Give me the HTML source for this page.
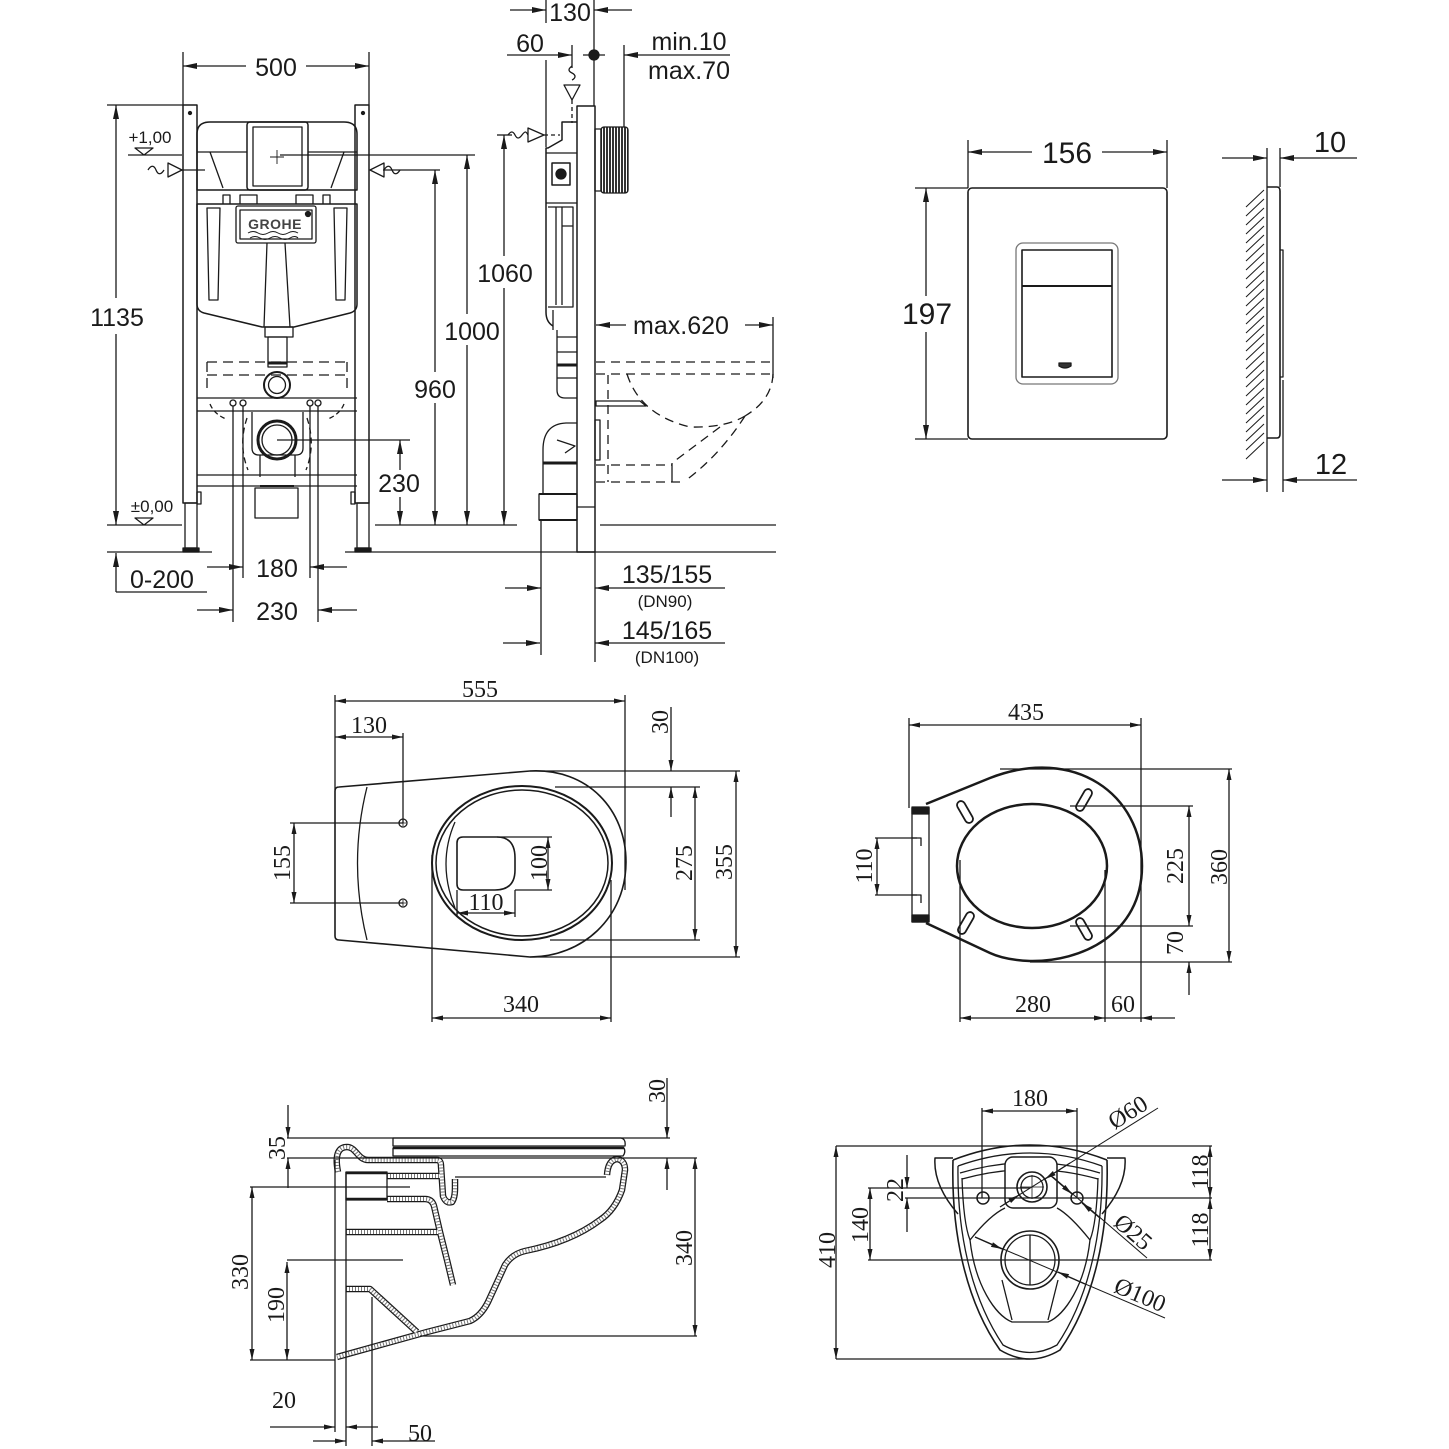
<!DOCTYPE html>
<html><head><meta charset="utf-8"><style>
html,body{margin:0;padding:0;background:#fff}
svg{display:block}
.s{font-family:"Liberation Sans",sans-serif;fill:#1a1a1a;stroke:none;text-anchor:middle}
.r{font-family:"Liberation Serif",serif;fill:#1a1a1a;stroke:none;text-anchor:middle;font-size:24px}
</style></head><body>
<svg width="1449" height="1449" viewBox="0 0 1449 1449" xmlns="http://www.w3.org/2000/svg">
<defs>
<marker id="a" viewBox="0 0 14 6" refX="14" refY="3" markerWidth="14" markerHeight="6" markerUnits="userSpaceOnUse" orient="auto"><path d="M0,0L14,3L0,6z" fill="#1a1a1a"/></marker>
<marker id="b" viewBox="0 0 11 5" refX="11" refY="2.5" markerWidth="11" markerHeight="5" markerUnits="userSpaceOnUse" orient="auto"><path d="M0,0L11,2.5L0,5z" fill="#1a1a1a"/></marker>
<pattern id="vs" width="3" height="10" patternUnits="userSpaceOnUse"><rect width="2" height="10" fill="#333"/></pattern>
<g id="wl" fill="none">
<path d="M338,1172C334,1152 340,1147 347,1147C356,1147 358,1160 368,1160L437,1160Q441,1160 441,1166L443,1196Q446,1204 452,1202Q455,1198 455,1188V1179"/>
<path d="M607,1175Q608,1160 617,1159Q625,1160 625,1170L622,1190Q615,1210 600,1220C580,1235 555,1245 525,1251Q512,1254 505,1265L488,1302Q481,1316 470,1321L427,1332L337,1357"/>
<path d="M387,1176H440"/>
<path d="M387,1199H425Q432,1199 434,1206L440,1232L447,1260L453,1285"/>
<path d="M346,1232H438"/>
<path d="M346,1289H370L417,1332"/>
</g>
</defs>
<rect width="1449" height="1449" fill="#fff"/>
<g stroke="#1a1a1a" stroke-width="1.3" fill="none" stroke-linejoin="round">

<!-- ============ TOP LEFT FRAME ============ -->
<path d="M183,52V105M369,52V105"/>
<line x1="246" y1="66" x2="183" y2="66" marker-end="url(#a)"/>
<line x1="306" y1="66" x2="369" y2="66" marker-end="url(#a)"/>
<path d="M107,105H183"/>
<line x1="116" y1="298" x2="116" y2="105" marker-end="url(#a)"/>
<line x1="116" y1="334" x2="116" y2="525" marker-end="url(#a)"/>
<path d="M135,148H153L144,155Z M128,155H182"/>
<!-- posts -->
<rect x="183" y="105" width="14" height="398" stroke-width="1.5"/>
<rect x="355" y="105" width="14" height="398" stroke-width="1.5"/>
<rect x="185" y="503" width="12" height="45"/>
<rect x="357" y="503" width="12" height="45"/>
<rect x="183" y="548" width="16" height="4" fill="#1a1a1a"/>
<rect x="355" y="548" width="16" height="4" fill="#1a1a1a"/>
<rect x="197" y="492" width="4" height="12"/>
<rect x="351" y="492" width="4" height="12"/>
<circle cx="190" cy="113" r="1.5" fill="#1a1a1a"/>
<circle cx="363" cy="113" r="1.5" fill="#1a1a1a"/>
<!-- cistern top -->
<path d="M197,190V134Q197,122 210,122H344Q357,122 357,134V190Z" stroke-width="1.5"/>
<path d="M197,152H247M308,152H357M210,152L223,188M344,152L331,188"/>
<rect x="247" y="122" width="61" height="68" rx="3" stroke-width="1.5"/>
<rect x="253" y="127" width="49" height="59"/>
<path d="M270,157H284M277,150V164" stroke-width="0.9"/>
<path d="M280,155H475"/>
<path d="M182,170H205M383,170H440"/>
<path d="M148,170c3,-5 6,-5 8,0s5,5 8,0"/>
<path d="M168,163L182,170L168,177Z"/>
<path d="M384,163L370,170L384,177Z"/>
<path d="M384,170c3,-5 6,-5 8,0s5,5 8,0"/>
<path d="M223,204V195H230V204M240,204V195H257V204M296,204V195H313V204M323,204V195H330V204"/>
<!-- tank -->
<path d="M197,204H357V304Q357,311 350,313L294,327H262L204,313Q197,311 197,304Z" stroke-width="1.5"/>
<path d="M207,208H220L218,300H209ZM347,208H334L336,300H345Z"/>
<path d="M267,243L264,327M285,243L290,327"/>
<rect x="236" y="206" width="80" height="37" rx="2"/>
<rect x="240" y="210" width="72" height="29"/>
<path d="M248,233q5,-3 10,0t10,0t10,0t10,0t10,0M250,238q5,-3 10,0t10,0t10,0t10,0t8,0" stroke-width="1"/>
<circle cx="308" cy="214" r="2.5" fill="#1a1a1a"/>
<!-- drain -->
<rect x="265" y="327" width="28" height="10"/>
<rect x="268" y="337" width="19" height="30"/>
<path d="M268,363H287" stroke-width="3"/>
<circle cx="277" cy="385" r="13" stroke-width="2"/>
<circle cx="277" cy="385" r="8.5"/>
<path d="M207,362H347M207,375H347M207,362V388M347,362V388" stroke-dasharray="10,6"/>
<path d="M197,398H357M197,411H357M197,475H357M197,486H357"/>
<circle cx="233" cy="403" r="3"/><circle cx="243" cy="403" r="3"/><circle cx="310" cy="403" r="3"/><circle cx="318" cy="403" r="3"/>
<path d="M233,406V622M243,406V578M310,406V578M318,406V622"/>
<path d="M210,404Q214,414 226,419M344,404Q340,414 328,419" stroke-dasharray="5,3"/>
<path d="M247,418Q238,445 248,470M307,418Q316,445 306,470" stroke-dasharray="6,4"/>
<path d="M252,412V448Q252,455 259,455H296Q303,455 303,448V412"/>
<circle cx="277" cy="440" r="19" stroke-width="3"/>
<circle cx="277" cy="440" r="15"/>
<path d="M260,455V477M295,455V477"/>
<rect x="255" y="488" width="43" height="30"/>
<path d="M260,486H294" stroke-width="2"/>
<!-- levels / floors -->
<path d="M135,518H153L144,525Z M107,525H182 M375,525H517"/>
<path d="M107,552H212M345,552H776"/>
<line x1="116" y1="592" x2="116" y2="553" marker-end="url(#a)"/>
<path d="M116,592H207"/>
<line x1="207" y1="567" x2="243" y2="567" marker-end="url(#a)"/>
<line x1="347" y1="567" x2="310" y2="567" marker-end="url(#a)"/>
<line x1="197" y1="610" x2="233" y2="610" marker-end="url(#a)"/>
<line x1="357" y1="610" x2="318" y2="610" marker-end="url(#a)"/>
<path d="M277,440H410"/>
<line x1="400" y1="470" x2="400" y2="440" marker-end="url(#a)"/>
<line x1="400" y1="497" x2="400" y2="525" marker-end="url(#a)"/>
<line x1="435" y1="372" x2="435" y2="170" marker-end="url(#a)"/>
<line x1="435" y1="403" x2="435" y2="525" marker-end="url(#a)"/>
<line x1="467" y1="314" x2="467" y2="155" marker-end="url(#a)"/>
<line x1="467" y1="345" x2="467" y2="525" marker-end="url(#a)"/>
<path d="M497,135H512"/>
<line x1="504" y1="256" x2="504" y2="135" marker-end="url(#a)"/>
<line x1="504" y1="288" x2="504" y2="525" marker-end="url(#a)"/>

<!-- ============ SIDE VIEW ============ -->
<path d="M546,0V23M594,0V106"/>
<line x1="510" y1="10" x2="546" y2="10" marker-end="url(#a)"/>
<line x1="632" y1="10" x2="594" y2="10" marker-end="url(#a)"/>
<path d="M572,45V68M546,60V147"/>
<line x1="507" y1="55" x2="572" y2="55" marker-end="url(#a)"/>
<circle cx="594" cy="55" r="5" fill="#1a1a1a"/>
<path d="M583,55H605"/>
<path d="M624,45V127"/>
<line x1="730" y1="55" x2="624" y2="55" marker-end="url(#a)"/>
<path d="M572,66c-4,3 -4,5 0,7s4,5 0,7"/>
<path d="M564,85H580L572,100Z"/>
<path d="M572,100V123" stroke-dasharray="4,3"/>
<path d="M508,135c3,-4 5,-4 7,0s4,4 7,0s4,-4 6,0"/>
<path d="M528,128V142L544,135Z"/>
<path d="M544,135H560" stroke-dasharray="4,3"/>
<rect x="577" y="106" width="18" height="446" stroke-width="1.5"/>
<path d="M577,507H595"/>
<rect x="595" y="129" width="6" height="62"/>
<rect x="601" y="127" width="27" height="66" rx="3" fill="url(#vs)"/>
<path d="M577,122H562V140L548,148H546V312Q546,322 553,326" stroke-width="1.5"/>
<path d="M546,153H577M546,203H577M548,207H573V307H548M556,207V305M562,207V305M562,226H573"/>
<rect x="552" y="163" width="18" height="22" stroke-width="1.5"/>
<circle cx="561" cy="174" r="5" fill="#1a1a1a"/>
<path d="M553,310V330M557,330V390Q557,398 565,398H577"/>
<path d="M557,337H577M557,352H577M557,378H577"/>
<path d="M557,365H577" stroke-width="3"/>
<path d="M577,423H566Q543,424 543,450V495"/>
<path d="M543,463H577" stroke-width="3"/>
<path d="M557,440L575,446L565,453"/>
<rect x="539" y="494" width="38" height="26"/>
<path d="M539,494H577M539,520H577" stroke-width="2"/>
<path d="M541,520V655M595,552V662"/>
<rect x="595" y="420" width="5" height="40"/>
<line x1="626" y1="325" x2="596" y2="325" marker-end="url(#a)"/>
<line x1="745" y1="325" x2="773" y2="325" marker-end="url(#a)"/>
<path d="M773,317V378"/>
<g stroke-dasharray="9,6">
<path d="M596,362H773M596,374H772"/>
<path d="M773,374Q772,400 745,416"/>
<path d="M627,374Q640,415 690,427Q725,428 745,416"/>
<path d="M720,427L672,463M745,416Q720,455 685,481"/>
<path d="M596,465H672M596,482H680"/>
<path d="M608,375V482"/>
</g>
<path d="M672,463V482"/>
<path d="M596,401H640L646,406H596Z"/>
<path d="M600,525H776"/>
<line x1="505" y1="588" x2="541" y2="588" marker-end="url(#a)"/>
<line x1="725" y1="588" x2="595" y2="588" marker-end="url(#a)"/>
<line x1="503" y1="643" x2="540" y2="643" marker-end="url(#a)"/>
<line x1="725" y1="643" x2="595" y2="643" marker-end="url(#a)"/>

<!-- ============ PLATE ============ -->
<path d="M968,140V188M1167,140V188"/>
<line x1="1032" y1="152" x2="968" y2="152" marker-end="url(#a)"/>
<line x1="1102" y1="152" x2="1167" y2="152" marker-end="url(#a)"/>
<rect x="968" y="188" width="199" height="251" rx="4" stroke-width="1.6"/>
<rect x="1016" y="243" width="102" height="141" rx="7" stroke="#777"/>
<rect x="1022" y="250" width="90" height="127" stroke-width="1.6"/>
<path d="M1022,286H1112" stroke-width="2"/>
<path d="M1059,363h12v3q-6,4 -12,0z" fill="#333"/>
<path d="M915,188H968M915,439H968"/>
<line x1="926" y1="296" x2="926" y2="188" marker-end="url(#a)"/>
<line x1="926" y1="332" x2="926" y2="439" marker-end="url(#a)"/>
<path d="M1267,148V492M1280,148V187M1283,380V492"/>
<path stroke-width="1" d="M1264,190L1246,207M1264,199L1246,216M1264,208L1246,225M1264,217L1246,234M1264,226L1246,243M1264,235L1246,252M1264,244L1246,261M1264,253L1246,270M1264,262L1246,279M1264,271L1246,288M1264,280L1246,297M1264,289L1246,306M1264,298L1246,315M1264,307L1246,324M1264,316L1246,333M1264,325L1246,342M1264,334L1246,351M1264,343L1246,360M1264,352L1246,369M1264,361L1246,378M1264,370L1246,387M1264,379L1246,396M1264,388L1246,405M1264,397L1246,414M1264,406L1246,423M1264,415L1246,432M1264,424L1246,441M1264,433L1246,450M1264,442L1246,459"/>
<path d="M1267,187H1277Q1280,187 1280,191V434Q1280,438 1277,438H1267" stroke-width="1.6"/>
<path d="M1280,250H1283V377H1280"/>
<line x1="1222" y1="158" x2="1267" y2="158" marker-end="url(#a)"/>
<line x1="1357" y1="158" x2="1280" y2="158" marker-end="url(#a)"/>
<line x1="1222" y1="480" x2="1267" y2="480" marker-end="url(#a)"/>
<line x1="1357" y1="480" x2="1283" y2="480" marker-end="url(#a)"/>

<!-- ============ MIDDLE LEFT (WC top) ============ -->
<path d="M335,695V790M625,695V890"/>
<line x1="480" y1="701" x2="335" y2="701" marker-end="url(#b)"/>
<line x1="480" y1="701" x2="625" y2="701" marker-end="url(#b)"/>
<line x1="369" y1="737" x2="335" y2="737" marker-end="url(#b)"/>
<line x1="369" y1="737" x2="403" y2="737" marker-end="url(#b)"/>
<path d="M403,733V823"/>
<path d="M339,787L530,771C588,768 626,810 626,862C626,918 582,957 530,957L339,940Q335,940 335,936V791Q335,787 339,787Z" stroke-width="1.6"/>
<path d="M367,787Q348,863 367,940"/>
<circle cx="403" cy="823" r="4"/><circle cx="403" cy="903" r="4"/>
<path d="M400,823H406M403,820V826M400,903H406M403,900V906" stroke-width="0.8"/>
<ellipse cx="522" cy="863" rx="90" ry="77" stroke-width="2"/>
<ellipse cx="522" cy="863" rx="86" ry="73" stroke-width="1.5"/>
<path d="M455,822Q437,863 455,908"/>
<path d="M463,837H497Q515,837 515,858V870Q515,890 495,890H463Q457,890 457,884V843Q457,837 463,837Z" stroke-width="1.6"/>
<path d="M497,837H552M515,890H552"/>
<line x1="548" y1="863" x2="548" y2="837" marker-end="url(#b)"/>
<line x1="548" y1="863" x2="548" y2="890" marker-end="url(#b)"/>
<path d="M457,890V917M515,890V917"/>
<line x1="486" y1="913" x2="457" y2="913" marker-end="url(#b)"/>
<line x1="486" y1="913" x2="515" y2="913" marker-end="url(#b)"/>
<path d="M290,823H403M290,903H403"/>
<line x1="294" y1="863" x2="294" y2="823" marker-end="url(#b)"/>
<line x1="294" y1="863" x2="294" y2="903" marker-end="url(#b)"/>
<line x1="671" y1="707" x2="671" y2="771" marker-end="url(#b)"/>
<line x1="671" y1="817" x2="671" y2="787" marker-end="url(#b)"/>
<path d="M530,771H740M555,787H700M550,940H700M530,957H740"/>
<line x1="695" y1="863" x2="695" y2="787" marker-end="url(#b)"/>
<line x1="695" y1="863" x2="695" y2="940" marker-end="url(#b)"/>
<line x1="736" y1="863" x2="736" y2="771" marker-end="url(#b)"/>
<line x1="736" y1="863" x2="736" y2="957" marker-end="url(#b)"/>
<path d="M432,855V1022M611,880V1022"/>
<line x1="521" y1="1018" x2="432" y2="1018" marker-end="url(#b)"/>
<line x1="521" y1="1018" x2="611" y2="1018" marker-end="url(#b)"/>

<!-- ============ MIDDLE RIGHT (seat) ============ -->
<path d="M909,718V808M1141,718V1022"/>
<line x1="1026" y1="725" x2="909" y2="725" marker-end="url(#b)"/>
<line x1="1026" y1="725" x2="1141" y2="725" marker-end="url(#b)"/>
<path d="M926,804L990,778C1075,745 1142,795 1142,866C1142,935 1080,962 1030,961Q1005,960 990,953L926,923" stroke-width="2.5"/>
<path d="M912,808H929V922H912Z" fill="#fff"/>
<rect x="912" y="807" width="17" height="7" fill="#1a1a1a"/>
<rect x="912" y="915" width="17" height="7" fill="#1a1a1a"/>
<path d="M912,838H921V846M912,895H921V903"/>
<ellipse cx="1032" cy="866" rx="75" ry="62" stroke-width="2.5"/>
<rect x="-4" y="-12" width="8" height="24" rx="4" transform="translate(965,812) rotate(-30)" stroke-width="1.8"/>
<rect x="-4" y="-12" width="8" height="24" rx="4" transform="translate(1084,800) rotate(30)" stroke-width="1.8"/>
<rect x="-4" y="-12" width="8" height="24" rx="4" transform="translate(966,923) rotate(30)" stroke-width="1.8"/>
<rect x="-4" y="-12" width="8" height="24" rx="4" transform="translate(1084,929) rotate(-30)" stroke-width="1.8"/>
<path d="M875,838H917M875,895H917"/>
<line x1="877" y1="866" x2="877" y2="838" marker-end="url(#b)"/>
<line x1="877" y1="866" x2="877" y2="895" marker-end="url(#b)"/>
<path d="M1000,769H1232M1070,806H1193M1070,926H1193M1030,962H1232"/>
<line x1="1189" y1="866" x2="1189" y2="806" marker-end="url(#b)"/>
<line x1="1189" y1="866" x2="1189" y2="926" marker-end="url(#b)"/>
<line x1="1189" y1="995" x2="1189" y2="962" marker-end="url(#b)"/>
<line x1="1229" y1="866" x2="1229" y2="769" marker-end="url(#b)"/>
<line x1="1229" y1="866" x2="1229" y2="962" marker-end="url(#b)"/>
<path d="M960,860V1022M1105,870V1022"/>
<line x1="1033" y1="1018" x2="960" y2="1018" marker-end="url(#b)"/>
<line x1="1033" y1="1018" x2="1105" y2="1018" marker-end="url(#b)"/>
<path d="M1105,1018H1141"/>
<line x1="1175" y1="1018" x2="1141" y2="1018" marker-end="url(#b)"/>

<!-- ============ BOTTOM LEFT (section) ============ -->
<use href="#wl" stroke="#1a1a1a" stroke-width="6.5"/>
<use href="#wl" stroke="#fff" stroke-width="4"/>
<use href="#wl" stroke="#777" stroke-width="4" stroke-dasharray="1,2"/>
<path d="M455,1177H606"/>
<rect x="346" y="1172" width="41" height="28"/>
<path d="M346,1173H387M346,1199H387" stroke-width="2.5"/>
<path d="M393,1138H621Q626,1139 625,1146H393Z"/>
<path d="M393,1148H624Q626,1152 623,1156H393Z"/>
<path d="M393,1148H624" stroke-width="2.5"/>
<path d="M287,1138H670M287,1158H697"/>
<line x1="667" y1="1078" x2="667" y2="1138" marker-end="url(#b)"/>
<line x1="667" y1="1190" x2="667" y2="1158" marker-end="url(#b)"/>
<line x1="288" y1="1105" x2="288" y2="1138" marker-end="url(#b)"/>
<line x1="288" y1="1188" x2="288" y2="1158" marker-end="url(#b)"/>
<line x1="695" y1="1247" x2="695" y2="1158" marker-end="url(#b)"/>
<line x1="695" y1="1247" x2="695" y2="1336" marker-end="url(#b)"/>
<path d="M420,1336H697"/>
<path d="M250,1187H410M250,1360H335"/>
<line x1="252" y1="1272" x2="252" y2="1187" marker-end="url(#b)"/>
<line x1="252" y1="1272" x2="252" y2="1360" marker-end="url(#b)"/>
<path d="M287,1260H403"/>
<line x1="287" y1="1310" x2="287" y2="1262" marker-end="url(#b)"/>
<line x1="287" y1="1310" x2="287" y2="1360" marker-end="url(#b)"/>
<path d="M335,1160V1432M346,1172V1446M372,1297V1446"/>
<line x1="270" y1="1427" x2="335" y2="1427" marker-end="url(#b)"/>
<line x1="378" y1="1427" x2="346" y2="1427" marker-end="url(#b)"/>
<line x1="313" y1="1441" x2="346" y2="1441" marker-end="url(#b)"/>
<line x1="435" y1="1441" x2="372" y2="1441" marker-end="url(#b)"/>

<!-- ============ BOTTOM RIGHT (front) ============ -->
<path d="M953,1160Q1030,1130 1107,1160" stroke-width="1.6"/>
<path d="M953,1160C951,1230 965,1300 1000,1350Q1030,1368 1060,1350C1095,1300 1109,1230 1107,1160" stroke-width="1.6"/>
<path d="M958,1166Q1030,1140 1102,1166"/>
<path d="M958,1166C957,1230 970,1296 1003,1345Q1030,1360 1057,1345C1090,1296 1103,1230 1102,1166"/>
<path d="M953,1158L935,1158Q933,1185 958,1214M1107,1158L1125,1158Q1127,1185 1102,1214" stroke-width="1.5"/>
<path d="M960,1173Q1030,1152 1100,1173M962,1179Q1030,1160 1098,1179"/>
<path d="M962,1178C963,1210 966,1230 970,1240Q990,1215 1005,1208"/>
<path d="M1098,1178C1097,1210 1094,1230 1090,1240Q1070,1215 1057,1208"/>
<path d="M970,1240C975,1285 995,1315 1012,1322H1048C1065,1315 1085,1285 1090,1240"/>
<path d="M1002,1280L1012,1320M1058,1280L1048,1320"/>
<rect x="1005" y="1157" width="52" height="51" rx="8" fill="#fff" stroke-width="1.5"/>
<circle cx="1032" cy="1187" r="15" stroke-width="1.6"/>
<circle cx="1032" cy="1187" r="11"/>
<path d="M1020,1187H1044M1032,1175V1199" stroke-width="0.8"/>
<circle cx="983" cy="1198" r="6" stroke-width="1.5"/>
<circle cx="1077" cy="1198" r="6" stroke-width="1.5"/>
<circle cx="1030" cy="1260" r="29" fill="#fff" stroke-width="1.6"/>
<circle cx="1030" cy="1260" r="25"/>
<path d="M1030,1235V1285"/>
<path d="M982,1108V1198M1077,1108V1198"/>
<line x1="1030" y1="1111" x2="982" y2="1111" marker-end="url(#b)"/>
<line x1="1030" y1="1111" x2="1077" y2="1111" marker-end="url(#b)"/>
<path d="M1158,1108L1003,1205" stroke-width="1"/>
<line x1="1070" y1="1163" x2="1045" y2="1179" marker-end="url(#b)"/>
<line x1="1000" y1="1207" x2="1019" y2="1195" marker-end="url(#b)"/>
<path d="M1053,1177L1147,1258" stroke-width="1"/>
<line x1="1100" y1="1218" x2="1082" y2="1203" marker-end="url(#b)"/>
<line x1="1050" y1="1175" x2="1072" y2="1194" marker-end="url(#b)"/>
<path d="M975,1237L1165,1318" stroke-width="1"/>
<line x1="975" y1="1237" x2="1002" y2="1249" marker-end="url(#b)"/>
<line x1="1085" y1="1284" x2="1058" y2="1272" marker-end="url(#b)"/>
<path d="M836,1146H1212M836,1359H1030"/>
<line x1="836" y1="1252" x2="836" y2="1146" marker-end="url(#b)"/>
<line x1="836" y1="1252" x2="836" y2="1359" marker-end="url(#b)"/>
<path d="M868,1188H1030M868,1260H1212M905,1198H1212"/>
<line x1="870" y1="1224" x2="870" y2="1188" marker-end="url(#b)"/>
<line x1="870" y1="1224" x2="870" y2="1260" marker-end="url(#b)"/>
<line x1="907" y1="1155" x2="907" y2="1188" marker-end="url(#b)"/>
<line x1="907" y1="1232" x2="907" y2="1198" marker-end="url(#b)"/>
<line x1="1210" y1="1172" x2="1210" y2="1146" marker-end="url(#b)"/>
<line x1="1210" y1="1172" x2="1210" y2="1198" marker-end="url(#b)"/>
<line x1="1210" y1="1229" x2="1210" y2="1198" marker-end="url(#b)"/>
<line x1="1210" y1="1229" x2="1210" y2="1260" marker-end="url(#b)"/>
</g>

<!-- ============ TEXT (sans) ============ -->
<g class="s" font-size="25">
<text x="276" y="76">500</text>
<text x="117" y="326">1135</text>
<text x="150" y="143" font-size="17">+1,00</text>
<text x="152" y="512" font-size="17">±0,00</text>
<text x="162" y="588">0-200</text>
<text x="277" y="577">180</text>
<text x="277" y="620">230</text>
<text x="399" y="492">230</text>
<text x="435" y="398">960</text>
<text x="472" y="340">1000</text>
<text x="505" y="282">1060</text>
<text x="570" y="21">130</text>
<text x="530" y="52">60</text>
<text x="689" y="50">min.10</text>
<text x="689" y="79">max.70</text>
<text x="681" y="334">max.620</text>
<text x="667" y="583">135/155</text>
<text x="665" y="607" font-size="17">(DN90)</text>
<text x="667" y="639">145/165</text>
<text x="667" y="663" font-size="17">(DN100)</text>
<text x="1067" y="163" font-size="30">156</text>
<text x="927" y="324" font-size="30">197</text>
<text x="1330" y="152" font-size="29">10</text>
<text x="1331" y="474" font-size="29">12</text>
<text x="275" y="229" font-size="14" font-weight="bold" fill="#444" letter-spacing="0.5">GROHE</text>
</g>

<!-- ============ TEXT (serif) ============ -->
<g class="r">
<text x="480" y="697">555</text>
<text x="369" y="733">130</text>
<text x="486" y="910">110</text>
<text x="521" y="1012">340</text>
<text transform="translate(547,863) rotate(-90)">100</text>
<text transform="translate(290,863) rotate(-90)">155</text>
<text transform="translate(668,722) rotate(-90)">30</text>
<text transform="translate(692,863) rotate(-90)">275</text>
<text transform="translate(732,862) rotate(-90)">355</text>
<text x="1026" y="720">435</text>
<text transform="translate(872,866) rotate(-90)">110</text>
<text transform="translate(1183,866) rotate(-90)">225</text>
<text transform="translate(1183,943) rotate(-90)">70</text>
<text transform="translate(1227,867) rotate(-90)">360</text>
<text x="1033" y="1012">280</text>
<text x="1123" y="1012">60</text>
<text transform="translate(665,1091) rotate(-90)">30</text>
<text transform="translate(285,1148) rotate(-90)">35</text>
<text transform="translate(692,1248) rotate(-90)">340</text>
<text transform="translate(248,1272) rotate(-90)">330</text>
<text transform="translate(284,1305) rotate(-90)">190</text>
<text x="284" y="1408">20</text>
<text x="420" y="1441">50</text>
<text x="1030" y="1106">180</text>
<text transform="translate(1132,1119) rotate(-32)">Ø60</text>
<text transform="translate(1128,1238) rotate(41)">Ø25</text>
<text transform="translate(1137,1302) rotate(23)">Ø100</text>
<text transform="translate(835,1250) rotate(-90)">410</text>
<text transform="translate(868,1225) rotate(-90)">140</text>
<text transform="translate(903,1190) rotate(-90)">22</text>
<text transform="translate(1208,1172) rotate(-90)">118</text>
<text transform="translate(1208,1230) rotate(-90)">118</text>
</g>
</svg>
</body></html>
